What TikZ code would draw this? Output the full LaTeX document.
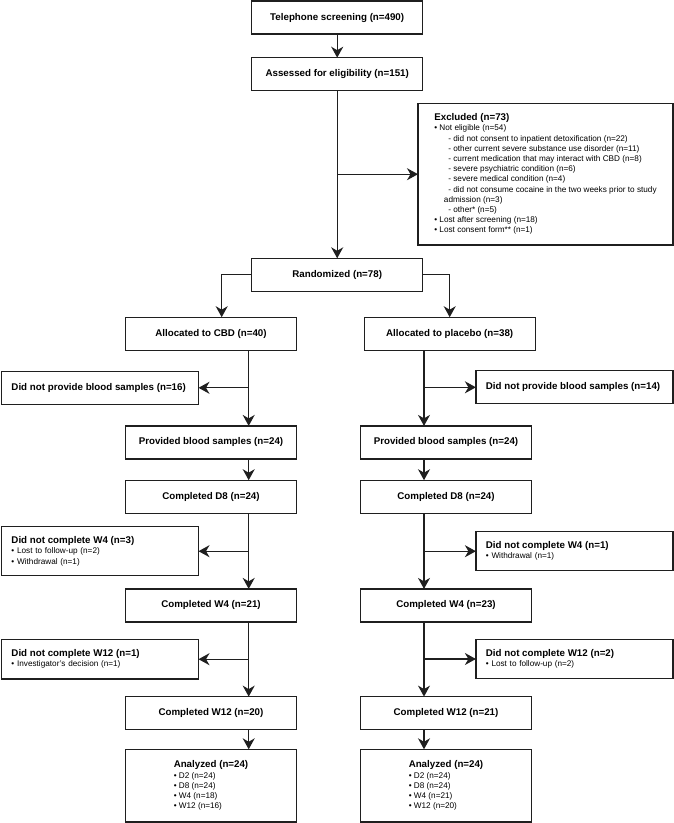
\documentclass[tikz,border=0pt]{standalone}
\usepackage{fontspec}
\setmainfont{Liberation Sans}
\usetikzlibrary{arrows.meta,positioning}
\newcommand{\ttlfont}{\fontsize{9.75}{10.2}\selectfont\bfseries}
\newcommand{\itmfont}{\fontsize{8.2}{10.2}\selectfont}

\begin{document}
\begin{tikzpicture}[x=1pt, y=-1pt,
  box/.style={draw=black!88, line width=1.3pt, font=\ttlfont, align=center,
    minimum width=171pt, minimum height=33pt, inner sep=2pt, outer sep=0pt},
  side/.style={draw=black!88, line width=1.3pt, font=\itmfont, align=left,
    text width=177pt, inner xsep=10pt, inner ysep=2pt, outer sep=0pt},
  arr/.style={draw=black!88, line width=1.3pt,
    -{Stealth[length=11pt,width=12pt,inset=3.5pt]}}]
\useasboundingbox (0,0) rectangle (674,823);
\node[box] (tel) at (337.2,17.5) {Telephone screening (n=490)};
\node[box, below=23.7pt of tel] (elig) {Assessed for eligibility (n=151)};
\node[box, below=167.6pt of elig] (rand) {Randomized (n=78)};
\node[box, font=\itmfont, align=left, minimum width=255pt,
  minimum height=141.7pt] (exc) at (545.5,174.2)
  {{\ttlfont Excluded (n=73)}\\
   • Not eligible (n=54)\\
   \hspace*{14pt}- did not consent to inpatient detoxification (n=22)\\
   \hspace*{14pt}- other current severe substance use disorder (n=11)\\
   \hspace*{14pt}- current medication that may interact with CBD (n=8)\\
   \hspace*{14pt}- severe psychiatric condition (n=6)\\
   \hspace*{14pt}- severe medical condition (n=4)\\
   \hspace*{14pt}- did not consume cocaine in the two weeks prior to study\\
   \hspace*{9.6pt}admission (n=3)\\
   \hspace*{14pt}- other* (n=5)\\
   • Lost after screening (n=18)\\
   • Lost consent form** (n=1)};

\node[box] (cbd) at (211,333.7) {Allocated to CBD (n=40)};
\node[box] (pla) at (449.7,333.7) {Allocated to placebo (n=38)};
\node[box, below=75.7pt of cbd] (provC) {Provided blood samples (n=24)};
\node[box, below=75.7pt of pla, xshift=-3.7pt] (provP) {Provided blood samples (n=24)};
\node[box, below=21.3pt of provC] (d8C) {Completed D8 (n=24)};
\node[box, below=21.3pt of provP] (d8P) {Completed D8 (n=24)};
\node[box, below=75.7pt of d8C] (w4C) {Completed W4 (n=21)};
\node[box, below=75.7pt of d8P] (w4P) {Completed W4 (n=23)};
\node[box, below=74.7pt of w4C] (w12C) {Completed W12 (n=20)};
\node[box, below=74.7pt of w4P] (w12P) {Completed W12 (n=21)};
\node[box, below=19.7pt of w12C, font=\itmfont, align=left,
  minimum height=72.7pt] (anaC)
  {{\ttlfont Analyzed (n=24)}\\• D2 (n=24)\\• D8 (n=24)\\• W4 (n=18)\\• W12 (n=16)};
\node[box, below=19.7pt of w12P, font=\itmfont, align=left,
  minimum height=72.7pt] (anaP)
  {{\ttlfont Analyzed (n=24)}\\• D2 (n=24)\\• D8 (n=24)\\• W4 (n=21)\\• W12 (n=20)};

\node[side, minimum height=33pt] (dnpC) at (100,387.8)
  {{\ttlfont Did not provide blood samples (n=16)}};
\node[side, minimum height=33pt] (dnpP) at (574.4,387.3)
  {{\ttlfont Did not provide blood samples (n=14)}};
\node[side, minimum height=49pt] (dw4C) at (100,551.2)
  {{\ttlfont Did not complete W4 (n=3)}\\• Lost to follow-up (n=2)\\• Withdrawal (n=1)};
\node[side, minimum height=39pt] (dw4P) at (574.4,551.2)
  {{\ttlfont Did not complete W4 (n=1)}\\• Withdrawal (n=1)};
\node[side, minimum height=39.7pt] (dw12C) at (100,659.2)
  {{\ttlfont Did not complete W12 (n=1)}\\• Investigator’s decision (n=1)};
\node[side, minimum height=38.6pt] (dw12P) at (574.4,659)
  {{\ttlfont Did not complete W12 (n=2)}\\• Lost to follow-up (n=2)};

\coordinate (tC) at (248.7,0);
\coordinate (tP) at (424,0);
\coordinate (bC) at (221.7,0);

\draw[arr] (tel) -- (elig);
\draw[arr] (elig) -- (rand);
\draw[arr] (elig.south |- exc.west) -- (exc.west);
\draw[arr] (rand.west) -| (bC |- cbd.north);
\draw[arr] (rand.east) -| (pla.north);

\draw[arr] (cbd.south -| tC) -- (provC.north -| tC);
\draw[arr] (provC.south -| tC) -- (d8C.north -| tC);
\draw[arr] (d8C.south -| tC) -- (w4C.north -| tC);
\draw[arr] (w4C.south -| tC) -- (w12C.north -| tC);
\draw[arr] (w12C.south -| tC) -- (anaC.north -| tC);
\draw[arr] (dnpC.east -| tC) -- (dnpC.east);
\draw[arr] (dw4C.east -| tC) -- (dw4C.east);
\draw[arr] (dw12C.east -| tC) -- (dw12C.east);

\draw[arr] (pla.south -| tP) -- (provP.north -| tP);
\draw[arr] (provP.south -| tP) -- (d8P.north -| tP);
\draw[arr] (d8P.south -| tP) -- (w4P.north -| tP);
\draw[arr] (w4P.south -| tP) -- (w12P.north -| tP);
\draw[arr] (w12P.south -| tP) -- (anaP.north -| tP);
\draw[arr] (dnpP.west -| tP) -- (dnpP.west);
\draw[arr] (dw4P.west -| tP) -- (dw4P.west);
\draw[arr] (dw12P.west -| tP) -- (dw12P.west);
\end{tikzpicture}
\end{document}
